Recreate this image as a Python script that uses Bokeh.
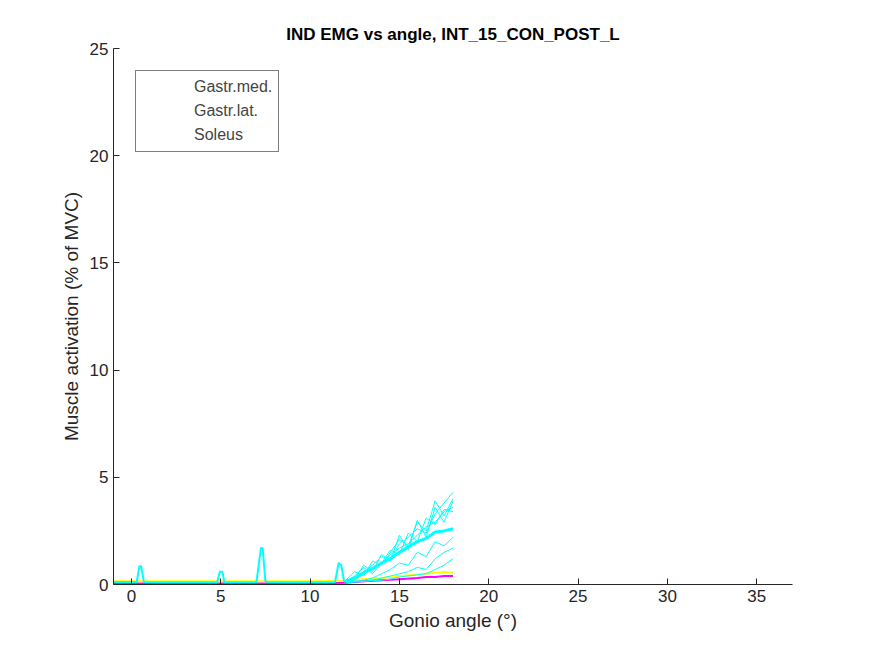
from bokeh.plotting import figure
from bokeh.models import Range1d, FixedTicker, Legend, LegendItem
from bokeh.embed import file_html
from bokeh.resources import INLINE

# baseline part of the traces (x < 12)
base_x = [-1.0, 0.3, 0.45, 0.55, 0.7, 2.0, 4.8, 4.95, 5.1, 5.2, 7.0, 7.25, 7.35, 7.5, 7.6, 9.0, 11.4, 11.6, 11.75, 11.9, 12.0]
base_y = [0.12, 0.12, 0.85, 0.85, 0.12, 0.1, 0.1, 0.6, 0.6, 0.1, 0.12, 1.7, 1.7, 0.15, 0.12, 0.1, 0.12, 1.0, 0.9, 0.15, 0.15]

# rising soleus trials (x 12 .. 18 in 0.5 steps)
sol_x = [12.0, 12.5, 13.0, 13.5, 14.0, 14.5, 15.0, 15.5, 16.0, 16.5, 17.0, 17.5, 18.0]
soleus = [
    [0.15, 0.3, 0.6, 0.9, 1.3, 1.2, 1.9, 2.2, 2.6, 2.4, 3.3, 3.8, 4.3],
    [0.15, 0.4, 0.8, 0.5, 1.0, 1.6, 1.4, 2.4, 2.0, 3.1, 2.8, 3.5, 3.4],
    [0.2, 0.6, 0.4, 1.1, 0.9, 1.5, 2.1, 1.8, 2.9, 2.5, 3.9, 3.2, 4.0],
    [0.15, 0.2, 0.5, 0.7, 1.0, 1.4, 1.7, 1.9, 2.3, 2.7, 2.9, 3.4, 3.6],
    [0.15, 0.25, 0.9, 0.6, 1.4, 1.1, 2.3, 1.6, 3.0, 2.2, 3.6, 2.9, 3.9],
    [0.1, 0.15, 0.2, 0.3, 0.5, 0.7, 1.0, 0.9, 1.5, 1.3, 2.0, 1.8, 2.2],
    [0.1, 0.12, 0.15, 0.2, 0.3, 0.4, 0.5, 0.6, 0.8, 0.7, 1.2, 1.5, 1.7],
    [0.1, 0.12, 0.14, 0.18, 0.2, 0.25, 0.35, 0.4, 0.45, 0.5, 0.7, 0.9, 1.2],
]
sol_mean = [0.15, 0.3, 0.55, 0.75, 1.0, 1.2, 1.5, 1.75, 2.0, 2.15, 2.45, 2.5, 2.6]

gm_x = [-1.0, 5.0, 10.0, 12.0, 13.0, 14.0, 15.0, 16.0, 16.5, 17.0, 17.5, 18.0]
gastr_med = [0.15, 0.15, 0.15, 0.18, 0.25, 0.3, 0.4, 0.45, 0.5, 0.55, 0.6, 0.55]
gastr_lat = [0.05, 0.05, 0.05, 0.08, 0.15, 0.2, 0.25, 0.3, 0.35, 0.35, 0.4, 0.4]

x_ticks = [0, 5, 10, 15, 20, 25, 30, 35]
y_ticks = [0, 5, 10, 15, 20, 25]

p = figure(width=859, height=640, output_backend="svg", toolbar_location=None,
           x_range=Range1d(-1.0, 37.0), y_range=Range1d(0, 25),
           min_border_left=113, min_border_right=67, min_border_top=48, min_border_bottom=56,
           title="IND EMG vs angle, INT_15_CON_POST_L")
p.title.align = "center"
p.title.text_font = "Liberation Sans"
p.title.text_font_size = "17px"
p.title.text_font_style = "bold"
p.title.text_color = "black"
p.grid.visible = False
p.outline_line_color = None

for ax, lab, t in ((p.xaxis, "Gonio angle (°)", x_ticks), (p.yaxis, "Muscle activation (% of MVC)", y_ticks)):
    ax.ticker = FixedTicker(ticks=t)
    ax.axis_label = lab
    ax.axis_label_text_font = "Liberation Sans"
    ax.axis_label_text_font_size = "19px"
    ax.axis_label_text_font_style = "normal"
    ax.axis_label_text_color = "#262626"
    ax.major_label_text_font = "Liberation Sans"
    ax.major_label_text_font_size = "17px"
    ax.major_label_text_color = "#262626"
    ax.axis_line_color = "#262626"
    ax.major_tick_in = 6
    ax.major_tick_out = 0
    ax.minor_tick_line_color = None
    ax.major_tick_line_color = "#262626"

p.line(gm_x, gastr_med, line_color="yellow", line_width=2)
r_gl = p.line(gm_x, gastr_lat, line_color="magenta", line_width=2)
p.line(base_x, base_y, line_color="cyan", line_width=2)
for tr in soleus:
    p.line(sol_x, tr, line_color="cyan", line_width=1)
p.line(sol_x, sol_mean, line_color="cyan", line_width=3)

# legend-only renderers (thin lines as in the reference legend)
r_gm_leg = p.line(x=[], y=[], line_color="#e6e6e6", line_width=1)
r_gl_leg = p.line(x=[], y=[], line_color="magenta", line_width=1)
r_sol_leg = p.line(x=[], y=[], line_color="cyan", line_width=1)
leg = Legend(items=[LegendItem(label="Gastr.med.", renderers=[r_gm_leg]),
                    LegendItem(label="Gastr.lat.", renderers=[r_gl_leg]),
                    LegendItem(label="Soleus", renderers=[r_sol_leg])],
             location=(22, 432), border_line_color="black", border_line_width=1,
             label_text_font="Liberation Sans", label_text_font_size="16px",
             glyph_width=50, glyph_height=20, label_height=20, spacing=4,
             padding=6, margin=0, background_fill_alpha=1, label_standoff=2)
p.add_layout(leg)

open("out.html", "w").write(file_html(p, INLINE))
